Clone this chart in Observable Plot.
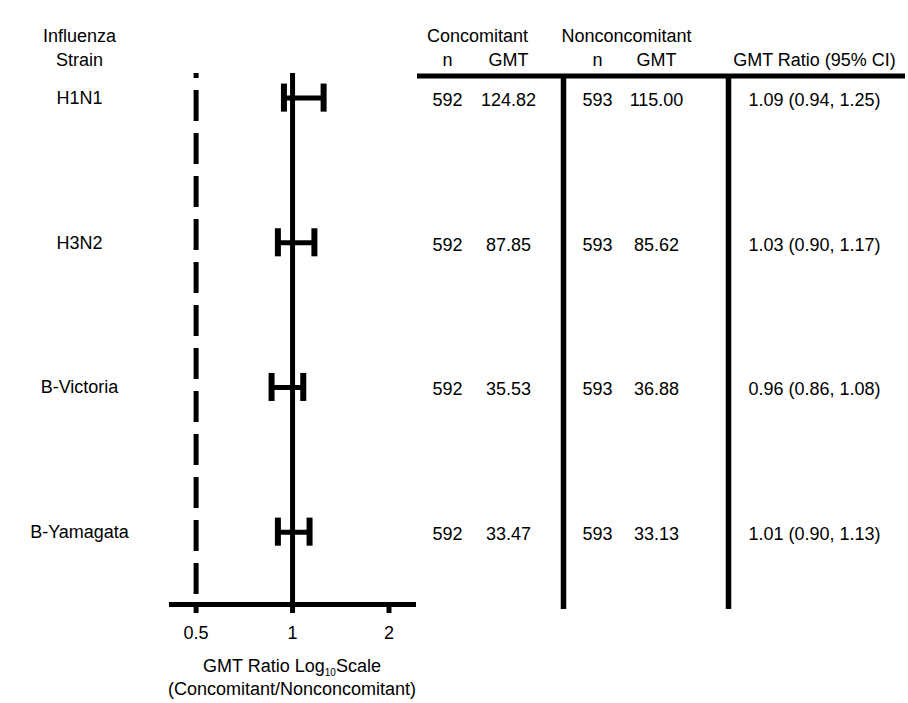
<!DOCTYPE html>
<html>
<head>
<meta charset="utf-8">
<script src="https://cdn.jsdelivr.net/npm/d3@7"></script>
<script src="https://cdn.jsdelivr.net/npm/@observablehq/plot@0.6"></script>
<style>
  body { margin: 0; background: #fff; }
  #chart { position: relative; width: 908px; height: 703px; font-family: "Liberation Sans", Arial, sans-serif; color: #000; }
  #chart svg { position: absolute; left: 0; top: 0; }
  #xlabel { position: absolute; left: 142px; width: 300px; top: 655px; text-align: center; font-size: 18px; line-height: 23px; }
  #xlabel sub { font-size: 10px; vertical-align: -4px; line-height: 0; }
</style>
</head>
<body>
<div id="chart"></div>
<script>
// ---- data ----
const strains = ["H1N1", "H3N2", "B-Victoria", "B-Yamagata"];
const gmtRatio = [1.09, 1.03, 0.96, 1.01];
const ciLow = [0.94, 0.90, 0.86, 0.90];
const ciHigh = [1.25, 1.17, 1.08, 1.13];
const concN = [592, 592, 592, 592];
const concGMT = ["124.82", "87.85", "35.53", "33.47"];
const nonN = [593, 593, 593, 593];
const nonGMT = ["115.00", "85.62", "36.88", "33.13"];
const xTicks = [0.5, 1, 2];
const refLines = [0.5, 1];
const headerLine1 = [["strain", "Influenza"], ["conc", "Concomitant"], ["non", "Nonconcomitant"]];
const headerLine2 = [["strain", "Strain"], ["cn", "n"], ["cg", "GMT"], ["nn", "n"], ["ng", "GMT"], ["ratio", "GMT Ratio (95% CI)"]];

const rows = strains.map((s, i) => ({
  i, strain: s, ratio: gmtRatio[i], lo: ciLow[i], hi: ciHigh[i],
  cn: String(concN[i]), cg: concGMT[i], nn: String(nonN[i]), ng: nonGMT[i],
  ci: `${gmtRatio[i].toFixed(2)} (${ciLow[i].toFixed(2)}, ${ciHigh[i].toFixed(2)})`
}));

// ---- layout ----
const W = 908, H = 703;
const FONT = "Liberation Sans, Arial, sans-serif";
const FS = 18;
const M = { top: 73, bottom: H - 604 };
const yRows = { domain: [-0.17, 3.5], reverse: true, axis: null };
const CAP = 0.097;
const COL = { strain: 79, conc: 477, cn: 447, cg: 508, non: 626, nn: 597, ng: 656, ratio: 814, sep1: 563, sep2: 728, tableL: 417, tableR: 905 };
const GRID_TOP = -0.153, GRID_BOTTOM = 3.535;
const style = { fontFamily: FONT, fontSize: FS + "px", color: "#000", background: "transparent", overflow: "visible" };

const forest = Plot.plot({
  width: W, height: H,
  marginLeft: 169, marginRight: W - 416, marginTop: M.top, marginBottom: M.bottom,
  style,
  x: { type: "log", domain: [0.413, 2.437] },
  y: yRows,
  marks: [
    Plot.ruleX([refLines[0]], { stroke: "#000", strokeWidth: 5, strokeDasharray: "31,12", strokeDashoffset: 26 }),
    Plot.ruleX([refLines[1]], { stroke: "#000", strokeWidth: 5 }),
    Plot.ruleY(rows, { y: "i", x1: "lo", x2: "hi", stroke: "#000", strokeWidth: 5 }),
    Plot.ruleX(rows, { x: "lo", y1: d => d.i - CAP, y2: d => d.i + CAP, stroke: "#000", strokeWidth: 6 }),
    Plot.ruleX(rows, { x: "hi", y1: d => d.i - CAP, y2: d => d.i + CAP, stroke: "#000", strokeWidth: 6 }),
    Plot.ruleY([yRows.domain[1]], { stroke: "#000", strokeWidth: 5 }),
    Plot.axisX({ ticks: xTicks, tickSize: 9, strokeWidth: 5, tickPadding: 13, tickFormat: d => String(d), fontSize: FS, label: null, stroke: "#000", fill: "#000" })
  ]
});

const table = Plot.plot({
  width: W, height: H,
  marginLeft: 0, marginRight: 0, marginTop: M.top, marginBottom: M.bottom,
  style,
  x: { type: "identity", axis: null },
  y: yRows,
  marks: [
    Plot.ruleY([GRID_TOP], { x1: () => COL.tableL, x2: () => COL.tableR, stroke: "#000", strokeWidth: 5 }),
    Plot.ruleX([COL.sep1, COL.sep2], { x: d => d, y1: () => GRID_TOP, y2: () => GRID_BOTTOM, stroke: "#000", strokeWidth: 5.5 }),
    Plot.text(headerLine1, { x: d => COL[d[0]], text: d => d[1], frameAnchor: "top", dy: -44, fill: "#000" }),
    Plot.text(headerLine2, { x: d => COL[d[0]], text: d => d[1], frameAnchor: "top", dy: -20, fill: "#000" }),
    Plot.text(rows, { x: () => COL.strain, y: "i", text: "strain", fill: "#000" }),
    Plot.text(rows, { x: () => COL.cn, y: "i", text: "cn", fill: "#000", dy: 2 }),
    Plot.text(rows, { x: () => COL.cg, y: "i", text: "cg", fill: "#000", dy: 2 }),
    Plot.text(rows, { x: () => COL.nn, y: "i", text: "nn", fill: "#000", dy: 2 }),
    Plot.text(rows, { x: () => COL.ng, y: "i", text: "ng", fill: "#000", dy: 2 }),
    Plot.text(rows, { x: () => COL.ratio, y: "i", text: "ci", fill: "#000", dy: 2 })
  ]
});

const chart = document.getElementById("chart");
chart.appendChild(forest);
chart.appendChild(table);
const lab = document.createElement("div");
lab.id = "xlabel";
lab.innerHTML = "GMT Ratio Log<sub>10</sub>Scale<br>(Concomitant/Nonconcomitant)";
chart.appendChild(lab);
</script>
</body>
</html>
